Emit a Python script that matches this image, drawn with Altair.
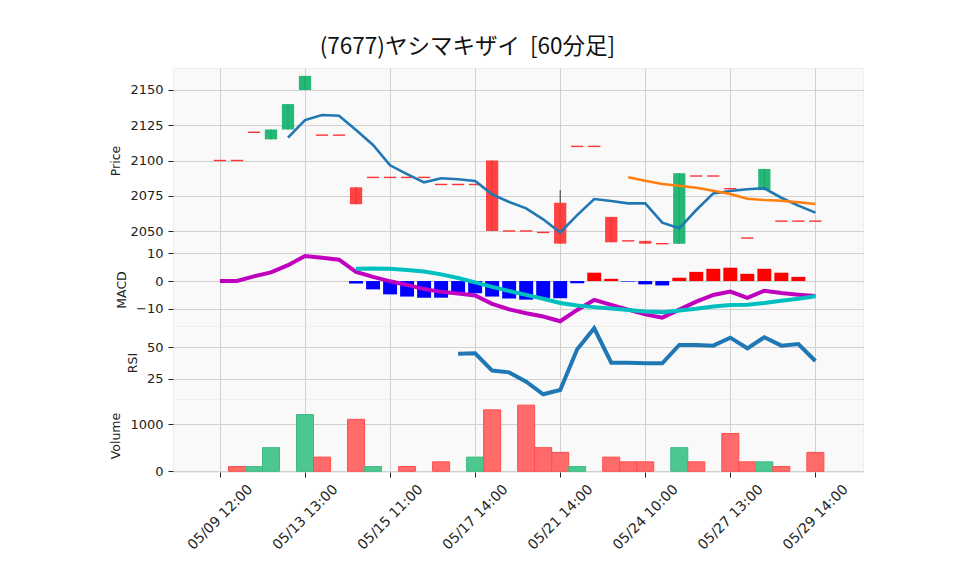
import json
import altair as alt
import pandas as pd

# ---------------- data ----------------
idx = list(range(36))
tick_idx = [0, 5, 10, 15, 20, 25, 30, 35]
tick_labels = ["05/09 12:00", "05/13 13:00", "05/15 11:00", "05/17 14:00",
               "05/21 14:00", "05/24 10:00", "05/27 13:00", "05/29 14:00"]

opens = [2100, 2100, 2120, 2115, 2122, 2150, 2118, 2118, 2081, 2088, 2088, 2088,
         2088, 2083, 2083, 2083, 2100, 2050, 2050, 2049, 2070, 2110, 2110, 2060,
         2043, 2043, 2041, 2041, 2089, 2089, 2080, 2045, 2079, 2057, 2057, 2057]
closes = [2100, 2100, 2120, 2122, 2140, 2160, 2118, 2118, 2069, 2088, 2088, 2088,
          2088, 2083, 2083, 2083, 2050, 2050, 2050, 2049, 2041, 2110, 2110, 2042,
          2043, 2041, 2041, 2091, 2089, 2089, 2080, 2045, 2094, 2057, 2057, 2057]
highs = [2100, 2100, 2120, 2122, 2140, 2160, 2118, 2118, 2081, 2088, 2088, 2088,
         2088, 2083, 2083, 2083, 2100, 2050, 2050, 2049, 2079, 2110, 2110, 2060,
         2043, 2043, 2041, 2091, 2089, 2089, 2080, 2045, 2094, 2057, 2057, 2057]
lows = [2100, 2100, 2120, 2115, 2122, 2150, 2118, 2118, 2069, 2088, 2088, 2088,
        2088, 2083, 2083, 2083, 2050, 2050, 2050, 2049, 2041, 2110, 2110, 2042,
        2043, 2041, 2041, 2041, 2089, 2089, 2080, 2045, 2079, 2057, 2057, 2057]

sma5 = [None, None, None, None, 2116.2, 2128.7, 2132.3, 2131.8, 2121.6, 2111.0,
        2096.6, 2090.4, 2084.5, 2087.4, 2086.7, 2085.5, 2076.0, 2070.6, 2066.1,
        2058.3, 2049.0, 2061.3, 2072.7, 2071.3, 2069.6, 2069.6, 2055.9, 2051.9,
        2064.9, 2076.7, 2078.4, 2079.6, 2080.3, 2073.6, 2068.0, 2063.0]
sma25 = [None] * 24 + [2088.1, 2085.7, 2083.3, 2082.1, 2080.7, 2078.6, 2076.2,
                       2072.9, 2072.0, 2071.5, 2070.4, 2069.1]

macd = [0, 0, 1.7, 3.1, 5.7, 9.0, 8.4, 7.7, 3.3, 1.5, -0.1, -1.4, -2.9, -3.9,
        -4.5, -5.2, -8.2, -10.2, -11.6, -12.8, -14.5, -10.4, -6.8, -8.6, -10.3,
        -12.0, -13.2, -10.3, -7.4, -5.0, -3.8, -6.1, -3.5, -4.3, -4.9, -5.4]
signal = [None] * 8 + [4.4, 4.5, 4.4, 4.0, 3.4, 2.4, 1.1, -0.5, -2.1, -3.6, -5.0,
                       -6.4, -7.9, -8.8, -9.4, -9.9, -10.4, -11.0, -11.2, -10.6,
                       -10.0, -9.2, -8.6, -8.5, -7.9, -7.1, -6.4, -5.5]
hist = [None] * 8 + [-0.9, -3.0, -4.8, -5.6, -6.0, -6.0, -4.7, -4.4, -5.6, -6.3,
                     -6.7, -6.1, -6.2, -0.8, 3.0, 0.8, -0.2, -1.2, -1.6, 1.2, 3.3,
                     4.4, 4.8, 2.6, 4.4, 3.0, 1.5, None]

rsi = [None] * 14 + [45.0, 45.3, 31.6, 30.2, 22.9, 12.9, 16.3, 48.4, 65.0, 37.9,
                     37.9, 37.4, 37.4, 51.8, 51.8, 51.3, 57.6, 49.2, 57.9, 51.3,
                     52.6, 39.2]

volume = [0, 100, 100, 500, 0, 1200, 300, 0, 1100, 100, 0, 100, 0, 200, 0, 300,
          1300, 0, 1400, 500, 400, 100, 0, 300, 200, 200, 0, 500, 200, 0, 800,
          200, 200, 100, 0, 400]
vol_dir = ["down", "down", "up", "up", "up", "up", "down", "down", "down", "up",
           "down", "down", "down", "down", "down", "up", "down", "down", "down",
           "down", "down", "up", "down", "down", "down", "down", "down", "up",
           "down", "down", "down", "down", "up", "down", "down", "down"]

title_text = "(7677)ヤシマキザイ\u00a0\u00a0[60分足]"

# ---------------- tables ----------------
df = pd.DataFrame({"i": idx, "open": opens, "close": closes, "high": highs,
                   "low": lows, "sma5": sma5, "sma25": sma25, "macd": macd,
                   "signal": signal, "hist": hist, "rsi": rsi,
                   "volume": volume, "vdir": vol_dir})
df["dir"] = ["up" if c > o else ("down" if c < o else "flat")
             for o, c in zip(opens, closes)]
df["cx0"] = df["i"] - 0.36
df["cx1"] = df["i"] + 0.36
df["hx0"] = df["i"] - 0.41
df["hx1"] = df["i"] + 0.41
df["vx0"] = df["i"] - 0.5
df["vx1"] = df["i"] + 0.5
df["hdir"] = ["pos" if (h is not None and h >= 0) else "neg" for h in hist]

XDOM = [-2.76, 37.8]
W = 690
label_map = json.dumps({str(k): v for k, v in zip(tick_idx, tick_labels)})
xscale = alt.Scale(domain=XDOM, nice=False, zero=False)

AX_NONE = alt.Axis(values=tick_idx, labels=False, ticks=False, domain=False,
                   title=None, grid=True)
AX_BOTTOM = alt.Axis(values=tick_idx, labelExpr=label_map + "[''+datum.value]",
                     labelAngle=-45, labelAlign="center", labelBaseline="middle",
                     labelPadding=40, ticks=True, domain=False, title=None,
                     grid=True, labelFontSize=14)


def X(field, bottom=False):
    return alt.X(field, type="quantitative", scale=xscale,
                 axis=AX_BOTTOM if bottom else AX_NONE)


def Y(field, dom, vals, title):
    return alt.Y(field, type="quantitative",
                 scale=alt.Scale(domain=dom, nice=False, zero=False),
                 axis=alt.Axis(values=vals, title=title, grid=True, format="d",
                               titlePadding=7))


base = alt.Chart(df)

# ---- price panel ----
PDOM = [2034.4, 2165.6]
pvals = [2050, 2075, 2100, 2125, 2150]
wick = base.transform_filter("datum.high != datum.low").mark_rule(
    color="#333333", strokeWidth=1).encode(
    x=X("i"), y=Y("low", PDOM, pvals, "Price"), y2="high")
body = base.transform_filter("datum.dir != 'flat'").mark_rect(
    stroke=None, opacity=0.92).encode(
    x=X("cx0"), x2="cx1", y=Y("open", PDOM, pvals, "Price"), y2="close",
    color=alt.Color("dir:N", scale=alt.Scale(domain=["up", "down"],
                                             range=["#13b26a", "#ff3333"]),
                    legend=None))
doji = base.transform_filter("datum.dir == 'flat'").mark_rule(
    color="#ff3333", strokeWidth=1.4).encode(
    x=X("cx0"), x2="cx1", y=Y("close", PDOM, pvals, "Price"))
l5 = base.transform_filter("isValid(datum.sma5)").mark_line(
    color="#1f77b4", strokeWidth=2.6).encode(
    x=X("i"), y=Y("sma5", PDOM, pvals, "Price"))
l25 = base.transform_filter("isValid(datum.sma25)").mark_line(
    color="#ff7f0e", strokeWidth=2.6).encode(
    x=X("i"), y=Y("sma25", PDOM, pvals, "Price"))
price = alt.layer(wick, body, doji, l5, l25).properties(width=W, height=185)

# ---- MACD panel ----
MDOM = [-16.2, 10.1]
mvals = [-10, 0, 10]
hbar = base.transform_filter("isValid(datum.hist)").mark_rect().encode(
    x=X("hx0"), x2="hx1", y=Y("hist", MDOM, mvals, "MACD"), y2=alt.datum(0),
    color=alt.Color("hdir:N", scale=alt.Scale(domain=["pos", "neg"],
                                              range=["#ff0000", "#0000ff"]),
                    legend=None))
mline = base.mark_line(color="#bf00bf", strokeWidth=4).encode(
    x=X("i"), y=Y("macd", MDOM, mvals, "MACD"))
sline = base.transform_filter("isValid(datum.signal)").mark_line(
    color="#00bfbf", strokeWidth=4).encode(
    x=X("i"), y=Y("signal", MDOM, mvals, "MACD"))
macd_panel = alt.layer(hbar, mline, sline).properties(width=W, height=73)

# ---- RSI panel ----
RDOM = [9.2, 66.8]
rsi_panel = base.transform_filter("isValid(datum.rsi)").mark_line(
    color="#1f77b4", strokeWidth=4).encode(
    x=X("i"), y=Y("rsi", RDOM, [25, 50], "RSI")).properties(width=W, height=73)

# ---- Volume panel ----
VDOM = [-15, 1530]
vol_panel = base.transform_filter("datum.volume > 0").mark_rect(
    strokeWidth=1).encode(
    x=X("vx0", bottom=True), x2="vx1",
    y=Y("volume", VDOM, [0, 1000], "Volume"), y2=alt.datum(0),
    fill=alt.Fill("vdir:N", scale=alt.Scale(domain=["up", "down"],
                                            range=["#4cc790", "#ff6b6b"]),
                  legend=None),
    stroke=alt.Stroke("vdir:N", scale=alt.Scale(domain=["up", "down"],
                                                range=["#3dbb82", "#ff4d4d"]),
                      legend=None)).properties(width=W, height=73)

chart = alt.vconcat(price, macd_panel, rsi_panel, vol_panel, spacing=0,
                    bounds="flush").resolve_scale(
    color="independent"
).properties(
    title=alt.TitleParams(title_text, font="Noto Sans CJK JP", fontSize=22.5,
                          fontWeight="normal", color="#111111", anchor="middle",
                          dx=-19, offset=9),
    padding={"left": 101, "top": 28, "right": 5, "bottom": 5},
).configure_view(
    fill="#f9f9f9", stroke="#eeeeee"
).configure_axis(
    labelFont="DejaVu Sans", labelFontSize=13, labelColor="#222222",
    tickColor="#222222", tickSize=5, domain=False, gridColor="#d0d0d0",
    gridWidth=1, titleFont="DejaVu Sans", titleFontSize=12.5,
    titleFontWeight="normal", titleColor="#222222", labelPadding=5
).configure_concat(spacing=0)

chart.save("out.html", embed_options={"renderer": "svg", "actions": False})
